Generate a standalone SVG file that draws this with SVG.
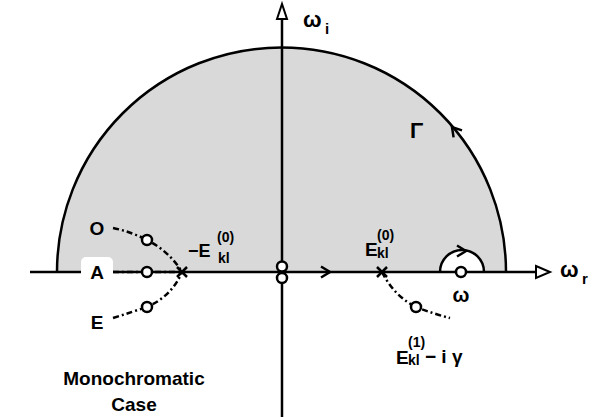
<svg xmlns="http://www.w3.org/2000/svg" width="599" height="417" viewBox="0 0 599 417">
<style>
text{font-family:"Liberation Sans",Arial,sans-serif;font-weight:bold;fill:#000}
.ax{stroke:#000;stroke-width:2.5;fill:none}
.dd{stroke:#000;stroke-width:2.5;fill:none;stroke-dasharray:6 3 2 3}
.pt{fill:#fff;stroke:#000;stroke-width:2.5}
.chev{fill:none;stroke:#000;stroke-width:2.5;stroke-linejoin:miter}
</style>
<defs>
<path id="chev" d="M-9,-5.5 L0,0 L-9,5.5"/>
<path id="xm" d="M-5,-5 L5,5 M-5,5 L5,-5"/>
</defs>
<g id="region">
<path d="M57,272 A224.5,224.5 0 0 1 506,272 L484,272 A22,22 0 0 0 440,272 Z" fill="#d9d9d9"/>
<path d="M57,272 A224.5,224.5 0 0 1 506,272" class="ax" stroke-width="3"/>
<path d="M440,272 A22,22 0 0 1 484,272" class="ax" stroke-width="3"/>
</g>
<g id="axes">
<line x1="30" y1="272" x2="537" y2="272" class="ax"/>
<path d="M536,266 L550,272 L536,278 Z" fill="#fff" stroke="#000" stroke-width="2"/>
<line x1="282" y1="417" x2="282" y2="19" class="ax"/>
<path d="M277,19 L282,4 L287,19 Z" fill="#fff" stroke="#000" stroke-width="2"/>
</g>
<g id="connectors">
<path class="dd" d="M113,228 Q132,232 147,240 Q170,252 182,272"/>
<path class="dd" d="M113,272 L182,272"/>
<path class="dd" d="M113,318 Q132,312 147,307 Q172,296 182,272"/>
<path class="dd" d="M382,272 Q394,296 416,307 Q434,314 450,318"/>
<use href="#chev" class="chev" transform="translate(330,272)"/>
<use href="#chev" class="chev" transform="translate(466,251)"/>
<use href="#chev" class="chev" transform="translate(452,127) rotate(-130)"/>
</g>
<g id="origin">
<circle cx="282" cy="266.5" r="5" class="pt"/>
<circle cx="282" cy="278" r="5" class="pt"/>
</g>
<g id="omega-pole">
<circle cx="461" cy="272" r="5" class="pt"/>
<text x="461" y="302" font-size="20" text-anchor="middle">ω</text>
</g>
<g id="pole-right">
<use href="#xm" class="ax" transform="translate(382,272)"/>
<circle cx="416" cy="307" r="5" class="pt"/>
<text x="365" y="256" font-size="19">E</text>
<text x="377" y="240" font-size="14">(0)</text>
<text x="377" y="258" font-size="14">kl</text>
<text x="396" y="364" font-size="19">E</text>
<text x="408" y="347" font-size="14">(1)</text>
<text x="408" y="365" font-size="14">kl</text>
<text x="425" y="363" font-size="19">− i γ</text>
</g>
<g id="pole-left">
<use href="#xm" class="ax" transform="translate(182,272)"/>
<circle cx="147" cy="240" r="5" class="pt"/>
<circle cx="147" cy="272" r="5" class="pt"/>
<circle cx="147" cy="307" r="5" class="pt"/>
<text x="188" y="257" font-size="18">−E</text>
<text x="217" y="242" font-size="14">(0)</text>
<text x="218" y="263" font-size="14">kl</text>
</g>
<g id="label-O"><text x="97" y="235" font-size="19" text-anchor="middle">O</text></g>
<g id="label-A">
<rect x="81" y="257" width="32" height="30" rx="5" fill="#fff"/>
<text x="97" y="279" font-size="19" text-anchor="middle">A</text>
</g>
<g id="label-E"><text x="97" y="329" font-size="19" text-anchor="middle">E</text></g>
<text x="410" y="138" font-size="22">Γ</text>
<text x="560" y="277" font-size="22">ω</text>
<text x="582" y="284" font-size="15">r</text>
<text x="303" y="27" font-size="22">ω</text>
<text x="325" y="34" font-size="15">i</text>
<text x="134" y="385" font-size="19" text-anchor="middle">Monochromatic</text>
<text x="134" y="411" font-size="19" text-anchor="middle">Case</text>
</svg>
